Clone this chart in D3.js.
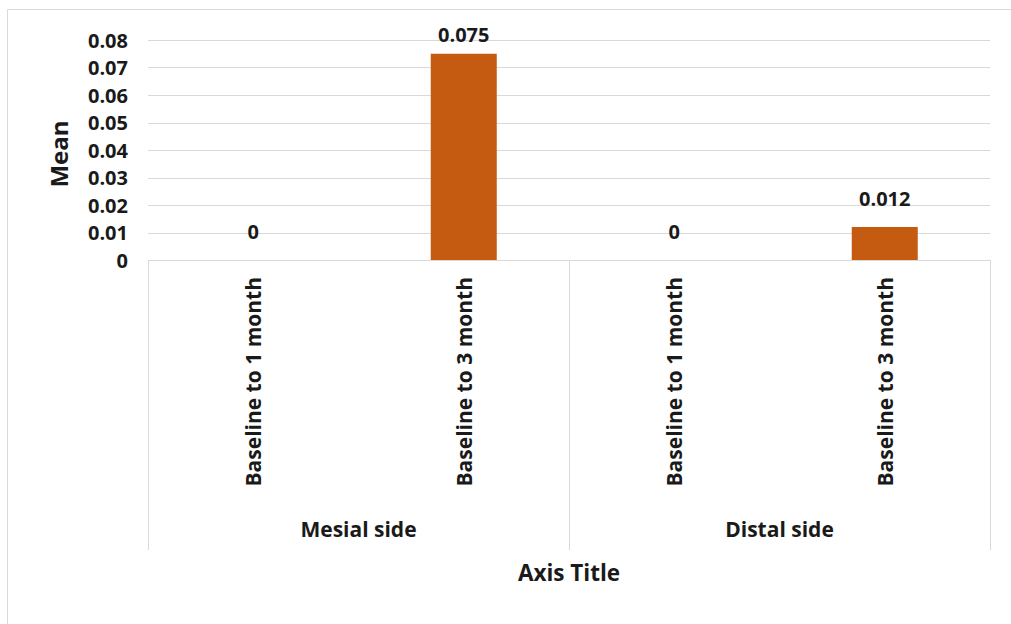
<!DOCTYPE html>
<html>
<head>
<meta charset="utf-8">
<script src="https://cdn.jsdelivr.net/npm/d3@7"></script>
<style>
  html, body { margin: 0; padding: 0; background: #fff; }
  svg { display: block; }
  text { font-family: "Open Sans", "Noto Sans", sans-serif; font-weight: bold; fill: #1a1a1a; }
</style>
</head>
<body>
<svg id="chart" width="1011" height="624"></svg>
<script>
// Mean change per interval, grouped by side
const groups = ["Mesial side", "Distal side"];
const periods = ["Baseline to 1 month", "Baseline to 3 month"];
const meanMesial = [0, 0.075];
const meanDistal = [0, 0.012];
const valueLabels = ["0", "0.075", "0", "0.012"];
const yTicks = [0, 0.01, 0.02, 0.03, 0.04, 0.05, 0.06, 0.07, 0.08];

const rows = [];
groups.forEach((g, gi) => {
  const vals = gi === 0 ? meanMesial : meanDistal;
  periods.forEach((p, pi) => rows.push({ key: g + "|" + p, group: g, period: p, value: vals[pi] }));
});
rows.forEach((r, i) => r.label = valueLabels[i]);

const svg = d3.select("#chart");
const plot = { left: 148, right: 990, top: 40, bottom: 260 };

// Chart area frame
svg.append("path")
  .attr("d", "M7.5,624 V9.5 H1011")
  .attr("fill", "none").attr("stroke", "#d9d9d9").attr("stroke-width", 1);

const x = d3.scaleBand().domain(rows.map(r => r.key))
  .range([plot.left, plot.right]).paddingInner(0).paddingOuter(0);
const y = d3.scaleLinear().domain([0, 0.08]).range([plot.bottom, plot.top]);

// Horizontal gridlines
svg.append("g").selectAll("line").data(yTicks.filter(t => t > 0)).join("line")
  .attr("x1", plot.left).attr("x2", plot.right)
  .attr("y1", d => Math.round(y(d)) + 0.5).attr("y2", d => Math.round(y(d)) + 0.5)
  .attr("stroke", "#d9d9d9").attr("stroke-width", 1);

// Y axis tick labels
const yAxis = d3.axisLeft(y).tickValues(yTicks).tickSize(0).tickPadding(0)
  .tickFormat(d => d === 0 ? "0" : d3.format(".2f")(d));
const gy = svg.append("g").attr("transform", `translate(${plot.left - 20},0)`).call(yAxis);
gy.select(".domain").remove();
gy.selectAll("text").attr("font-size", 20).attr("dy", "0.35em")
  .style("font-family", '"Open Sans", sans-serif').style("font-weight", "bold").attr("fill", "#1a1a1a");

// Bars
const barW = 66;
svg.append("g").selectAll("rect").data(rows).join("rect")
  .attr("x", d => x(d.key) + x.bandwidth() / 2 - barW / 2)
  .attr("y", d => y(d.value))
  .attr("width", barW)
  .attr("height", d => y(0) - y(d.value))
  .attr("fill", "#C55A11");

// Value labels, kept inside the plot area
svg.append("g").selectAll("text").data(rows).join("text")
  .attr("x", d => x(d.key) + x.bandwidth() / 2)
  .attr("y", d => Math.max(y(d.value) - 21, plot.top + 2))
  .attr("text-anchor", "middle")
  .attr("font-size", 20)
  .text(d => d.label);

// Category axis: baseline and group separators
svg.append("line")
  .attr("x1", plot.left).attr("x2", plot.right)
  .attr("y1", plot.bottom + 0.5).attr("y2", plot.bottom + 0.5)
  .attr("stroke", "#d9d9d9");
const sepX = [plot.left, x(rows[2].key), plot.right];
svg.append("g").selectAll("line").data(sepX).join("line")
  .attr("x1", d => Math.round(d) + 0.5).attr("x2", d => Math.round(d) + 0.5)
  .attr("y1", plot.bottom).attr("y2", 550)
  .attr("stroke", "#d9d9d9");

// Rotated period labels
svg.append("g").selectAll("text").data(rows).join("text")
  .attr("transform", d => `translate(${x(d.key) + x.bandwidth() / 2 + 8},${277}) rotate(-90)`)
  .attr("text-anchor", "end")
  .attr("font-size", 21)
  .text(d => d.period);

// Group labels
svg.append("g").selectAll("text").data(groups).join("text")
  .attr("x", (g, i) => (sepX[i] + sepX[i + 1]) / 2)
  .attr("y", 537)
  .attr("text-anchor", "middle")
  .attr("font-size", 21)
  .text(d => d);

// Axis titles
svg.append("text")
  .attr("x", (plot.left + plot.right) / 2).attr("y", 581)
  .attr("text-anchor", "middle").attr("font-size", 22.5)
  .text("Axis Title");

svg.append("text")
  .attr("transform", `translate(68,${(plot.top + plot.bottom) / 2 + 4}) rotate(-90)`)
  .attr("text-anchor", "middle").attr("font-size", 24)
  .text("Mean");
</script>
</body>
</html>
